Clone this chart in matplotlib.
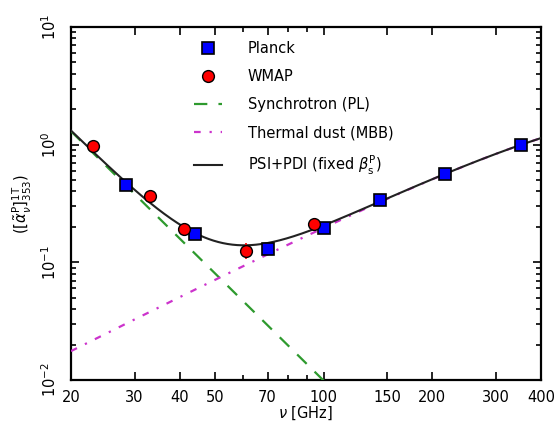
import numpy as np
import matplotlib
matplotlib.use("Agg")
import matplotlib.pyplot as plt
from matplotlib.ticker import FixedLocator, NullFormatter, LogLocator, LogFormatterSciNotation

# Measured polarisation regression coefficients (relative to 353 GHz)
planck_freq = [28.4, 44.1, 70.4, 100.0, 143.0, 217.0, 353.0]
planck_val = [0.455, 0.174, 0.130, 0.195, 0.339, 0.560, 1.00]
planck_err = [0.030, 0.012, 0.010, 0.008, 0.008, 0.012, 0.02]

wmap_freq = [23.0, 33.0, 41.0, 61.0, 94.0]
wmap_val = [0.98, 0.365, 0.192, 0.126, 0.211]
wmap_err = [0.03, 0.020, 0.025, 0.020, 0.015]

# Model parameters
sync_amp_20 = 1.30      # synchrotron amplitude at 20 GHz
sync_beta = -3.03       # synchrotron spectral index
dust_beta = 1.56        # dust emissivity index
dust_temp = 19.6        # dust temperature [K]
dust_amp_353 = 1.0      # dust amplitude at 353 GHz

x_ticks_major = [20, 30, 40, 50, 70, 100, 150, 200, 300, 400]
x_ticks_minor = [60, 80, 90]

H_OVER_K = 0.0479924    # K / GHz


def sync(nu):
    return sync_amp_20 * (nu / 20.0) ** sync_beta


def mbb_rj(nu):
    return nu ** (dust_beta + 1) / np.expm1(H_OVER_K * nu / dust_temp)


def dust(nu):
    return dust_amp_353 * mbb_rj(nu) / mbb_rj(353.0)


nu = np.logspace(np.log10(20), np.log10(400), 400)

plt.rcParams['font.family'] = ['DejaVu Sans']
plt.rcParams['mathtext.fontset'] = 'dejavusans'

fig = plt.figure(figsize=(5.56, 4.28), dpi=100)
ax = fig.add_axes([71 / 556, 1 - 380 / 428, 470 / 556, 353 / 428])

h_planck = ax.errorbar(planck_freq, planck_val, yerr=planck_err, fmt='s', color='blue',
                       mfc='blue', mec='black', mew=1.2, ms=9, ecolor='blue',
                       elinewidth=1.2, capsize=0, label='Planck', zorder=5)
h_wmap = ax.errorbar(wmap_freq, wmap_val, yerr=wmap_err, fmt='o', color='red',
                     mfc='red', mec='black', mew=1.0, ms=8.5, ecolor='red',
                     elinewidth=1.2, capsize=0, label='WMAP', zorder=5)
h_sync, = ax.plot(nu, sync(nu), '--', color='#2e9a2e', lw=1.6, dashes=(6, 5),
                  label='Synchrotron (PL)', zorder=3)
h_dust, = ax.plot(nu, dust(nu), '-.', color='#cc33cc', lw=1.6, dashes=(3, 4, 1, 4),
                  label='Thermal dust (MBB)', zorder=3)
h_tot, = ax.plot(nu, sync(nu) + dust(nu), '-', color='#222222', lw=1.5,
                 label=r'PSI+PDI (fixed $\beta_{\rm s}^{\rm P}$)', zorder=4)

ax.set_xscale('log')
ax.set_yscale('log')
ax.set_xlim(20, 400)
ax.set_ylim(1e-2, 1e1)

ax.xaxis.set_major_locator(FixedLocator(x_ticks_major))
ax.xaxis.set_major_formatter(plt.FixedFormatter([str(t) for t in x_ticks_major]))
ax.xaxis.set_minor_locator(FixedLocator(x_ticks_minor))
ax.xaxis.set_minor_formatter(NullFormatter())

ax.yaxis.set_major_locator(LogLocator(base=10, numticks=10))
ax.yaxis.set_major_formatter(LogFormatterSciNotation())
ax.yaxis.set_minor_locator(LogLocator(base=10, subs=np.arange(2, 10), numticks=20))
ax.yaxis.set_minor_formatter(NullFormatter())

ax.tick_params(which='both', direction='in', top=True, right=True, width=1.2)
ax.tick_params(which='major', length=6, labelsize=10.5)
ax.tick_params(which='minor', length=3.5)
ax.tick_params(axis='x', which='major', pad=7)
ax.tick_params(axis='y', which='major', pad=9)
for lbl in ax.get_yticklabels():
    lbl.set_rotation(90)
    lbl.set_va('center')

for sp in ax.spines.values():
    sp.set_linewidth(1.6)

ax.set_xlabel(r'$\nu$ [GHz]', fontsize=10.5, labelpad=0)
ax.set_ylabel(r'$([\tilde{\alpha}_\nu^{\rm P}]^{\rm 1T}_{353})$', fontsize=10.5, labelpad=4)

# Legend keys show only the markers, without the error-bar stems
leg_planck, = ax.plot([], [], 's', mfc='blue', mec='black', mew=1.2, ms=9)
leg_wmap, = ax.plot([], [], 'o', mfc='red', mec='black', mew=1.0, ms=8.5)
handles = [leg_planck, leg_wmap, h_sync, h_dust, h_tot]
labels = ['Planck', 'WMAP', h_sync.get_label(), h_dust.get_label(), h_tot.get_label()]
leg = ax.legend(handles, labels, loc='upper left',
                bbox_to_anchor=(194 / 556, 1 - 41 / 428),
                bbox_transform=fig.transFigure, frameon=False, fontsize=10.5,
                handlelength=1.9, handletextpad=1.8, labelspacing=0.9,
                borderpad=0, borderaxespad=0, numpoints=1)

fig.savefig('out.png', dpi=100)
